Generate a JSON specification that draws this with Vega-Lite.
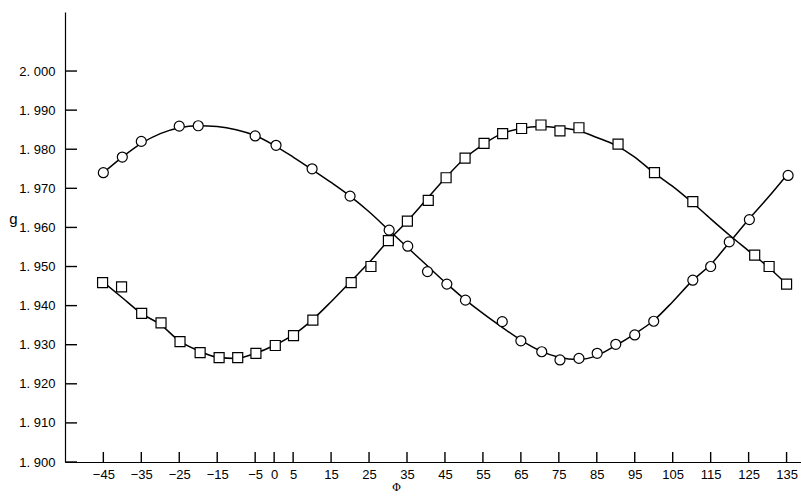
{
  "$schema": "https://vega.github.io/schema/vega-lite/v6.json",
  "width": 736,
  "height": 450,
  "autosize": {"type": "none"},
  "padding": {"left": 65, "top": 12, "right": 0, "bottom": 40},
  "background": "white",
  "config": {
    "view": {"stroke": null},
    "font": "Liberation Sans"
  },
  "resolve": {"scale": {"x": "independent", "y": "independent"}, "axis": {"x": "independent", "y": "independent"}},
  "datasets": {
    "pts": [
      {"phi": -45, "g": 1.974, "s": "circle"},
      {"phi": -40, "g": 1.978, "s": "circle"},
      {"phi": -35, "g": 1.982, "s": "circle"},
      {"phi": -25, "g": 1.9859, "s": "circle"},
      {"phi": -20, "g": 1.986, "s": "circle"},
      {"phi": -5, "g": 1.9834, "s": "circle"},
      {"phi": 0.5, "g": 1.981, "s": "circle"},
      {"phi": 10, "g": 1.975, "s": "circle"},
      {"phi": 20, "g": 1.968, "s": "circle"},
      {"phi": 30.3, "g": 1.9593, "s": "circle"},
      {"phi": 35.2, "g": 1.9552, "s": "circle"},
      {"phi": 40.4, "g": 1.9487, "s": "circle"},
      {"phi": 45.5, "g": 1.9455, "s": "circle"},
      {"phi": 50.4, "g": 1.9414, "s": "circle"},
      {"phi": 60.1, "g": 1.9359, "s": "circle"},
      {"phi": 65, "g": 1.931, "s": "circle"},
      {"phi": 70.5, "g": 1.9282, "s": "circle"},
      {"phi": 75.3, "g": 1.9261, "s": "circle"},
      {"phi": 80.3, "g": 1.9265, "s": "circle"},
      {"phi": 85.1, "g": 1.9278, "s": "circle"},
      {"phi": 90, "g": 1.9301, "s": "circle"},
      {"phi": 95, "g": 1.9325, "s": "circle"},
      {"phi": 100, "g": 1.936, "s": "circle"},
      {"phi": 110.3, "g": 1.9465, "s": "circle"},
      {"phi": 115, "g": 1.950, "s": "circle"},
      {"phi": 119.9, "g": 1.9563, "s": "circle"},
      {"phi": 125.2, "g": 1.962, "s": "circle"},
      {"phi": 135.4, "g": 1.9733, "s": "circle"},
      {"phi": -45.2, "g": 1.9459, "s": "square"},
      {"phi": -40.2, "g": 1.9448, "s": "square"},
      {"phi": -34.9, "g": 1.938, "s": "square"},
      {"phi": -29.8, "g": 1.9356, "s": "square"},
      {"phi": -24.8, "g": 1.9308, "s": "square"},
      {"phi": -19.5, "g": 1.928, "s": "square"},
      {"phi": -14.5, "g": 1.9267, "s": "square"},
      {"phi": -9.6, "g": 1.9267, "s": "square"},
      {"phi": -4.8, "g": 1.9278, "s": "square"},
      {"phi": 0.3, "g": 1.9298, "s": "square"},
      {"phi": 5.1, "g": 1.9323, "s": "square"},
      {"phi": 10.2, "g": 1.9363, "s": "square"},
      {"phi": 20.3, "g": 1.9459, "s": "square"},
      {"phi": 25.5, "g": 1.950, "s": "square"},
      {"phi": 30.1, "g": 1.9566, "s": "square"},
      {"phi": 35.1, "g": 1.9616, "s": "square"},
      {"phi": 40.6, "g": 1.9669, "s": "square"},
      {"phi": 45.3, "g": 1.9727, "s": "square"},
      {"phi": 50.3, "g": 1.9777, "s": "square"},
      {"phi": 55.3, "g": 1.9815, "s": "square"},
      {"phi": 60.2, "g": 1.984, "s": "square"},
      {"phi": 65.2, "g": 1.9853, "s": "square"},
      {"phi": 70.3, "g": 1.9862, "s": "square"},
      {"phi": 75.3, "g": 1.9847, "s": "square"},
      {"phi": 80.3, "g": 1.9855, "s": "square"},
      {"phi": 90.6, "g": 1.9813, "s": "square"},
      {"phi": 100.2, "g": 1.974, "s": "square"},
      {"phi": 110.3, "g": 1.9666, "s": "square"},
      {"phi": 126.6, "g": 1.9529, "s": "square"},
      {"phi": 130.4, "g": 1.950, "s": "square"},
      {"phi": 135, "g": 1.9455, "s": "square"}
    ],
    "fit": [
      {"phi": -45, "g": 1.974, "s": "circle"},
      {"phi": -40, "g": 1.978, "s": "circle"},
      {"phi": -35, "g": 1.9815, "s": "circle"},
      {"phi": -30, "g": 1.984, "s": "circle"},
      {"phi": -25, "g": 1.9855, "s": "circle"},
      {"phi": -20, "g": 1.986, "s": "circle"},
      {"phi": -15, "g": 1.9858, "s": "circle"},
      {"phi": -10, "g": 1.985, "s": "circle"},
      {"phi": -5, "g": 1.9835, "s": "circle"},
      {"phi": 0, "g": 1.981, "s": "circle"},
      {"phi": 5, "g": 1.978, "s": "circle"},
      {"phi": 10, "g": 1.9748, "s": "circle"},
      {"phi": 15, "g": 1.9715, "s": "circle"},
      {"phi": 20, "g": 1.968, "s": "circle"},
      {"phi": 25, "g": 1.964, "s": "circle"},
      {"phi": 30, "g": 1.9595, "s": "circle"},
      {"phi": 35, "g": 1.955, "s": "circle"},
      {"phi": 40, "g": 1.9505, "s": "circle"},
      {"phi": 45, "g": 1.946, "s": "circle"},
      {"phi": 50, "g": 1.9418, "s": "circle"},
      {"phi": 55, "g": 1.938, "s": "circle"},
      {"phi": 60, "g": 1.9345, "s": "circle"},
      {"phi": 65, "g": 1.9312, "s": "circle"},
      {"phi": 70, "g": 1.9285, "s": "circle"},
      {"phi": 75, "g": 1.9268, "s": "circle"},
      {"phi": 80, "g": 1.9262, "s": "circle"},
      {"phi": 85, "g": 1.9272, "s": "circle"},
      {"phi": 90, "g": 1.9298, "s": "circle"},
      {"phi": 95, "g": 1.9328, "s": "circle"},
      {"phi": 100, "g": 1.9362, "s": "circle"},
      {"phi": 105, "g": 1.941, "s": "circle"},
      {"phi": 110, "g": 1.9462, "s": "circle"},
      {"phi": 115, "g": 1.9505, "s": "circle"},
      {"phi": 120, "g": 1.9562, "s": "circle"},
      {"phi": 125, "g": 1.962, "s": "circle"},
      {"phi": 130, "g": 1.9675, "s": "circle"},
      {"phi": 135, "g": 1.9733, "s": "circle"},
      {"phi": -45, "g": 1.946, "s": "square"},
      {"phi": -40, "g": 1.942, "s": "square"},
      {"phi": -35, "g": 1.938, "s": "square"},
      {"phi": -30, "g": 1.9352, "s": "square"},
      {"phi": -25, "g": 1.931, "s": "square"},
      {"phi": -20, "g": 1.9285, "s": "square"},
      {"phi": -15, "g": 1.9268, "s": "square"},
      {"phi": -10, "g": 1.9265, "s": "square"},
      {"phi": -5, "g": 1.9278, "s": "square"},
      {"phi": 0, "g": 1.9298, "s": "square"},
      {"phi": 5, "g": 1.9325, "s": "square"},
      {"phi": 10, "g": 1.9363, "s": "square"},
      {"phi": 15, "g": 1.941, "s": "square"},
      {"phi": 20, "g": 1.946, "s": "square"},
      {"phi": 25, "g": 1.951, "s": "square"},
      {"phi": 30, "g": 1.9565, "s": "square"},
      {"phi": 35, "g": 1.9615, "s": "square"},
      {"phi": 40, "g": 1.967, "s": "square"},
      {"phi": 45, "g": 1.9725, "s": "square"},
      {"phi": 50, "g": 1.9775, "s": "square"},
      {"phi": 55, "g": 1.9812, "s": "square"},
      {"phi": 60, "g": 1.984, "s": "square"},
      {"phi": 65, "g": 1.9853, "s": "square"},
      {"phi": 70, "g": 1.9858, "s": "square"},
      {"phi": 75, "g": 1.9855, "s": "square"},
      {"phi": 80, "g": 1.9848, "s": "square"},
      {"phi": 85, "g": 1.983, "s": "square"},
      {"phi": 90, "g": 1.981, "s": "square"},
      {"phi": 95, "g": 1.978, "s": "square"},
      {"phi": 100, "g": 1.974, "s": "square"},
      {"phi": 105, "g": 1.9705, "s": "square"},
      {"phi": 110, "g": 1.9665, "s": "square"},
      {"phi": 115, "g": 1.9622, "s": "square"},
      {"phi": 120, "g": 1.958, "s": "square"},
      {"phi": 125, "g": 1.954, "s": "square"},
      {"phi": 130, "g": 1.950, "s": "square"},
      {"phi": 135, "g": 1.9455, "s": "square"}
    ],
    "xticks": [
      {"v": -45}, {"v": -35}, {"v": -25}, {"v": -15}, {"v": -5}, {"v": 0}, {"v": 5}, {"v": 15}, {"v": 25}, {"v": 35},
      {"v": 45}, {"v": 55}, {"v": 65}, {"v": 75}, {"v": 85}, {"v": 95}, {"v": 105}, {"v": 115}, {"v": 125}, {"v": 135}
    ],
    "yticks": [
      {"v": 1.9}, {"v": 1.91}, {"v": 1.92}, {"v": 1.93}, {"v": 1.94}, {"v": 1.95}, {"v": 1.96}, {"v": 1.97}, {"v": 1.98}, {"v": 1.99}, {"v": 2.0}
    ]
  },
  "layer": [
    {
      "data": {"name": "fit"},
      "mark": {"type": "line", "interpolate": "monotone", "color": "black", "strokeWidth": 1.5},
      "encoding": {
        "x": {
          "field": "phi", "type": "quantitative",
          "scale": {"domain": [-55.1, 138.8], "nice": false, "zero": false},
          "axis": {
            "orient": "bottom",
            "values": [-45, -35, -25, -15, -5, 0, 5, 15, 25, 35, 45, 55, 65, 75, 85, 95, 105, 115, 125, 135],
            "title": "Φ",
            "titleFont": "DejaVu Serif",
            "titleFontSize": 11,
            "titleFontWeight": "normal",
            "titleX": 331,
            "titleY": 25,
            "titleBaseline": "middle",
            "domainColor": "black",
            "domainWidth": 1.2,
            "ticks": false,
            "labelPadding": 6,
            "labelFontSize": 13,
            "labelColor": "black",
            "labelFlush": false,
            "labelOverlap": false,
            "labelBound": false,
            "grid": false
          }
        },
        "y": {
          "field": "g", "type": "quantitative",
          "scale": {"domain": [1.9, 2.0151], "nice": false, "zero": false},
          "axis": {
            "orient": "left",
            "values": [1.9, 1.91, 1.92, 1.93, 1.94, 1.95, 1.96, 1.97, 1.98, 1.99, 2.0],
            "labelExpr": "replace(format(datum.value, '.3f'), '.', '. ')",
            "title": "g",
            "titleAngle": 0,
            "titleX": -52,
            "titleY": 206,
            "titleAlign": "center",
            "titleBaseline": "middle",
            "titleFontSize": 15,
            "titleFontWeight": "normal",
            "domainColor": "black",
            "domainWidth": 1.2,
            "ticks": false,
            "labelPadding": 10,
            "labelFontSize": 13,
            "labelColor": "black",
            "labelFlush": false,
            "labelOverlap": false,
            "grid": false
          }
        },
        "detail": {"field": "s"}
      }
    },
    {
      "layer": [
        {
          "data": {"name": "xticks"},
          "mark": {"type": "rule", "color": "black", "strokeWidth": 1.4},
          "encoding": {
            "x": {"field": "v", "type": "quantitative", "scale": {"domain": [-55.1, 138.8], "nice": false, "zero": false}, "axis": null},
            "y": {"datum": 1.9, "type": "quantitative", "scale": {"domain": [1.9, 2.0151], "nice": false, "zero": false}, "axis": null},
            "y2": {"datum": 1.90256}
          }
        },
        {
          "data": {"name": "yticks"},
          "mark": {"type": "rule", "color": "black", "strokeWidth": 1.4},
          "encoding": {
            "y": {"field": "v", "type": "quantitative", "axis": null},
            "x": {"datum": -55.1, "type": "quantitative", "axis": null},
            "x2": {"datum": -51.94}
          }
        },
        {
          "data": {"name": "pts"},
          "mark": {"type": "point", "filled": false, "fill": "white", "fillOpacity": 1, "stroke": "black", "strokeWidth": 1.2, "opacity": 1, "size": 100},
          "encoding": {
            "x": {"field": "phi", "type": "quantitative", "axis": null},
            "y": {"field": "g", "type": "quantitative", "axis": null},
            "shape": {
              "field": "s", "type": "nominal",
              "scale": {"domain": ["circle", "square"], "range": ["circle", "square"]},
              "legend": null
            }
          }
        }
      ]
    }
  ]
}
